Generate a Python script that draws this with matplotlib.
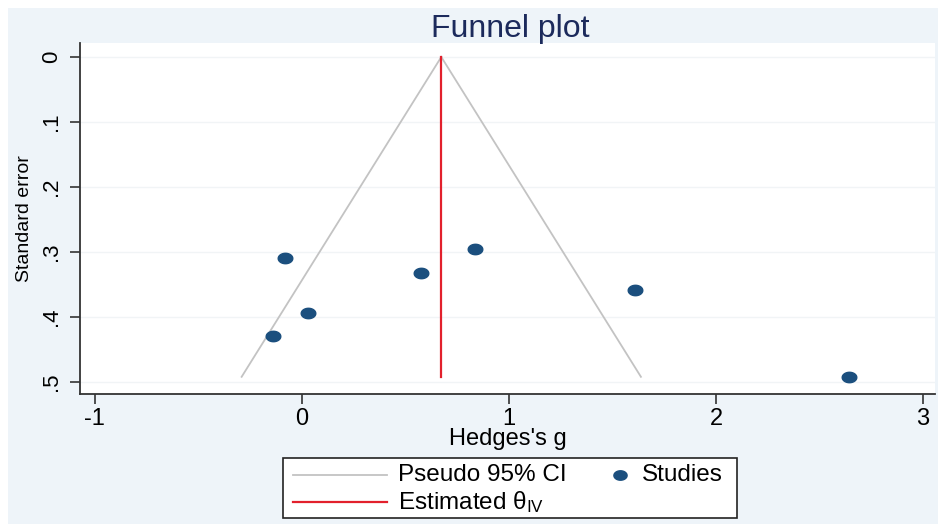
import matplotlib
matplotlib.use("Agg")
import matplotlib.pyplot as plt
from matplotlib.patches import Rectangle
from matplotlib.lines import Line2D
from matplotlib.path import Path
import numpy as np

plt.rcParams['font.family'] = ['Liberation Sans', 'DejaVu Sans']

# study estimates (Hedges's g) and standard errors
g = [-0.082, 0.577, 0.030, -0.141, 0.834, 1.611, 2.643]
se = [0.310, 0.333, 0.394, 0.429, 0.296, 0.358, 0.492]
theta_iv = 0.673
se_max = 0.492

xticks = [-1, 0, 1, 2, 3]
yticks = [0, 0.1, 0.2, 0.3, 0.4, 0.5]
ytick_labels = ['0', '.1', '.2', '.3', '.4', '.5']

ci_color = '#c3c3c3'
est_color = '#e2202c'
dot_color = '#1b4f7e'

# the source image is stretched sideways, so the dots are a bit oval
t = np.linspace(0, 2 * np.pi, 60)
oval = Path(np.column_stack([1.4 * np.cos(t), np.sin(t)]), closed=True)

fig = plt.figure(figsize=(9.38, 5.24), dpi=100)
fig.patch.set_facecolor('white')
fig.patches.append(Rectangle((0.008, 0.0), 0.992, 0.985, transform=fig.transFigure,
                             facecolor='#eef4f9', edgecolor='none', zorder=-10))

ax = fig.add_axes([0.0853, 0.248, 0.912, 0.670])
ax.set_facecolor('white')

# pseudo 95% CI funnel and the pooled estimate
se_line = np.array([0, se_max])
ax.plot(theta_iv - 1.96 * se_line, se_line, color=ci_color, lw=1.3, zorder=2)
ax.plot(theta_iv + 1.96 * se_line, se_line, color=ci_color, lw=1.3, zorder=2)
ax.plot([theta_iv, theta_iv], se_line, color=est_color, lw=1.6, zorder=3)
ax.plot(g, se, marker=oval, color=dot_color, markersize=10.5, linestyle='none', zorder=4)

ax.set_xlim(-1.072, 3.06)
ax.set_ylim(0.5185, -0.0215)
ax.set_xticks(xticks)
ax.set_xticklabels([str(v) for v in xticks])
ax.set_yticks(yticks)
ax.set_yticklabels(ytick_labels, rotation=90, va='center')
for v in yticks:
    ax.axhline(v, color='#f1f4f6', lw=1.0, zorder=1)

ax.tick_params(axis='x', labelsize=17, length=7, width=1.2, color='#333333', pad=3)
ax.tick_params(axis='y', labelsize=16, length=7, width=1.2, color='#333333', pad=6)
for s in ['top', 'right']:
    ax.spines[s].set_visible(False)
for s in ['left', 'bottom']:
    ax.spines[s].set_linewidth(1.3)
    ax.spines[s].set_color('#333333')

ax.set_xlabel("Hedges's g", fontsize=17)
ax.xaxis.set_label_coords(0.5, -0.098)
ax.set_ylabel('Standard error', fontsize=14)
ax.yaxis.set_label_coords(-0.055, 0.5)
fig.text(0.544, 0.944, 'Funnel plot', ha='center', va='center', fontsize=23, color='#1c2a5c')

# legend box drawn by hand to match stata's layout
fig.patches.append(Rectangle((0.3017, 0.0115), 0.484, 0.1145, transform=fig.transFigure,
                             facecolor='white', edgecolor='#222222', lw=1.2, zorder=5))
row1, row2 = 0.0935, 0.042
fig.add_artist(Line2D([0.3124, 0.4126], [row1, row1], transform=fig.transFigure,
                      color=ci_color, lw=1.3, zorder=6))
fig.add_artist(Line2D([0.3124, 0.4126], [row2, row2], transform=fig.transFigure,
                      color=est_color, lw=1.6, zorder=6))
fig.add_artist(Line2D([0.661], [row1], transform=fig.transFigure, marker=oval,
                      markersize=9.5, color=dot_color, linestyle='none', zorder=6))
fig.text(0.4243, row1, 'Pseudo 95% CI', fontsize=17.5, va='center', zorder=7)
fig.text(0.4243, row2, r'Estimated $\mathregular{\theta_{IV}}$', fontsize=17.5, va='center', zorder=7)
fig.text(0.6844, row1, 'Studies', fontsize=17.5, va='center', zorder=7)

fig.savefig('out.png', dpi=100)
